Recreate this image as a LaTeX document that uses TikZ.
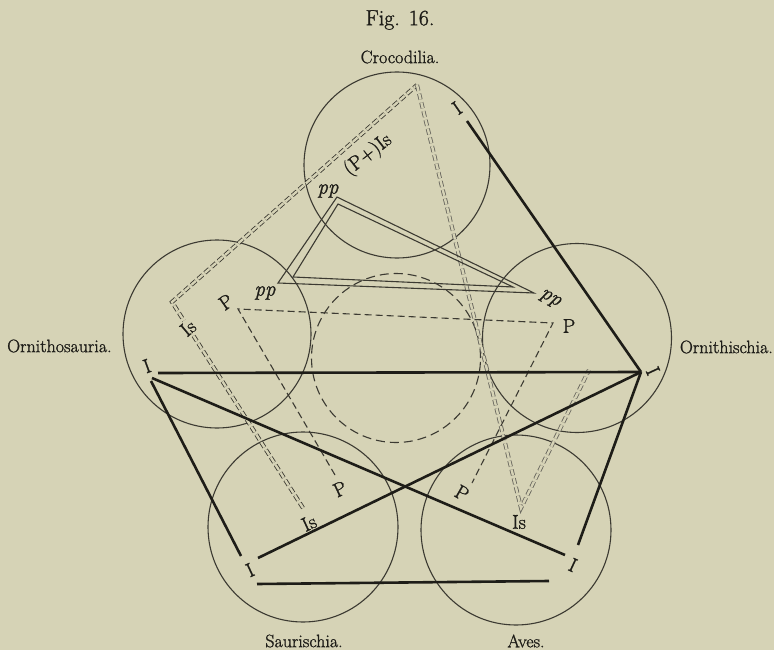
\documentclass[tikz,border=0pt]{standalone}
\usepackage{fontspec}
\setmainfont{Latin Modern Roman}[FakeBold=1.2]
\definecolor{paper}{RGB}{214,211,182}
\definecolor{ink}{RGB}{30,29,24}
\definecolor{inkgray}{RGB}{60,58,50}
\definecolor{lightink}{RGB}{105,103,94}
\begin{document}
\begin{tikzpicture}[x=1pt,y=-1pt,
  circ/.style={circle, draw=inkgray, line width=1.1pt, inner sep=0pt},
  cdash/.style={circle, draw=inkgray, line width=1.1pt, inner sep=0pt, dash pattern=on 9pt off 5pt},
  heavy/.style={draw=ink, line width=2.6pt},
  pdash/.style={draw=inkgray, line width=1.1pt, dash pattern=on 7pt off 4pt},
  isdouble/.style={draw=#1, line width=0.85pt, double=paper, double distance=2.4pt, dash pattern=on 6pt off 3pt},
  ppline/.style={draw=inkgray, line width=1.1pt, line join=miter},
  grp/.style={font=\fontsize{18}{20}\selectfont, text=ink, inner sep=0pt},
  lbl/.style={font=\fontsize{20}{22}\selectfont, text=ink, inner sep=1pt},
  pplbl/.style={font=\fontsize{21}{23}\selectfont\itshape, text=ink, inner sep=0pt}
]
% background / bounding box
\fill[paper] (0,0) rectangle (774,650);
\useasboundingbox (0,0) rectangle (774,650);

% circles
\node[circ, minimum size=186pt] (cCroc) at (397,165) {};
\node[circ, minimum size=188pt] (cOsa) at (217,334) {};
\node[circ, minimum size=189pt] (cOis) at (577,338) {};
\node[circ, minimum size=190pt] (cSau) at (303,527) {};
\node[circ, minimum size=190pt] (cAve) at (516,530) {};
\node[cdash, minimum size=169pt] (cMid) at (396,358) {};

% Is vertices (double dashed lines)
\coordinate (isApex) at (417,85);
\coordinate (isOsa) at (172,302);
\coordinate (isSau) at (303,508);
\coordinate (isAve) at (521,508);
\coordinate (isOis) at (589,370);
\draw[isdouble=inkgray] (isSau) -- (isOsa) -- (isApex);
\draw[isdouble=lightink] (isApex) -- (isAve) -- (isOis);

% pp double triangle
\coordinate (ppA1) at (337,197);
\coordinate (ppB1) at (278,283);
\coordinate (ppC1) at (534,293);
\coordinate (ppA2) at (338,204);
\coordinate (ppB2) at (293,277);
\coordinate (ppC2) at (513,287);
\draw[ppline] (ppA1) -- (ppB1) -- (ppC1) -- cycle;
\draw[ppline] (ppA2) -- (ppB2) -- (ppC2) -- cycle;

% P dashed lines
\coordinate (pOsa) at (238,309);
\coordinate (pOis) at (553,323);
\coordinate (pSau) at (335,475);
\coordinate (pAve) at (472,483);
\draw[pdash] (pSau) -- (pOsa) -- (pOis) -- (pAve);

% I heavy lines
\coordinate (iTop) at (467,121);
\coordinate (iOis) at (641,372);
\coordinate (iOsaH) at (158,373);
\coordinate (iOsaA) at (152,378);
\coordinate (iOsaS) at (151,381);
\coordinate (iSauO) at (258,558);
\coordinate (iSauOs) at (241,556);
\coordinate (iSauB) at (257,584);
\coordinate (iAveB) at (549,581);
\coordinate (iAveO) at (565,555);
\coordinate (iAveOi) at (578,545);
\draw[heavy] (iTop) -- (iOis);
\draw[heavy] (iOsaH) -- (iOis);
\draw[heavy] (iSauO) -- (iOis);
\draw[heavy] (iOis) -- (iAveOi);
\draw[heavy] (iOsaA) -- (iAveO);
\draw[heavy] (iOsaS) -- (iSauOs);
\draw[heavy] (iSauB) -- (iAveB);

% titles
\node[font=\fontsize{22}{24}\selectfont, text=ink, inner sep=0pt] (fig) at (400,20) {Fig. 16.};
\node[grp] (nCroc) at (400,57) {Crocodilia.};
\node[grp, anchor=west] (nOsa) at (7,346) {Ornithosauria.};
\node[grp, anchor=east] (nOis) at (773,347) {Ornithischia.};
\node[grp] (nSau) at (304,641) {Saurischia.};
\node[grp] (nAve) at (526,641) {Aves.};

% I labels
\node[lbl, rotate=35] (lITop) at (457,108) {I};
\node[lbl, rotate=-65] (lIOis) at (653,371) {I};
\node[lbl, rotate=20] (lIOsa) at (147,366) {I};
\node[lbl, rotate=25] (lISau) at (250,570) {I};
\node[lbl, rotate=-25] (lIAve) at (573,565) {I};

% Is labels
\node[lbl, rotate=40, fill=paper] (lIsOsa) at (188,328) {Is};
\node[lbl, rotate=25] (lIsSau) at (309,523) {Is};
\node[lbl] (lIsAve) at (519,522) {Is};
\node[lbl, rotate=38] (lIsCroc) at (368,155) {(P+)Is};

% P labels
\node[lbl, rotate=35] (lPOsa) at (226,302) {P};
\node[lbl] (lPOis) at (569,326) {P};
\node[lbl, rotate=25] (lPSau) at (340,489) {P};
\node[lbl, rotate=-30] (lPAve) at (462,493) {P};

% pp labels
\node[pplbl] (lppCroc) at (328,191) {pp};
\node[pplbl] (lppOsa) at (265,293) {pp};
\node[pplbl, rotate=-30] (lppOis) at (550,299) {pp};
\end{tikzpicture}
\end{document}
